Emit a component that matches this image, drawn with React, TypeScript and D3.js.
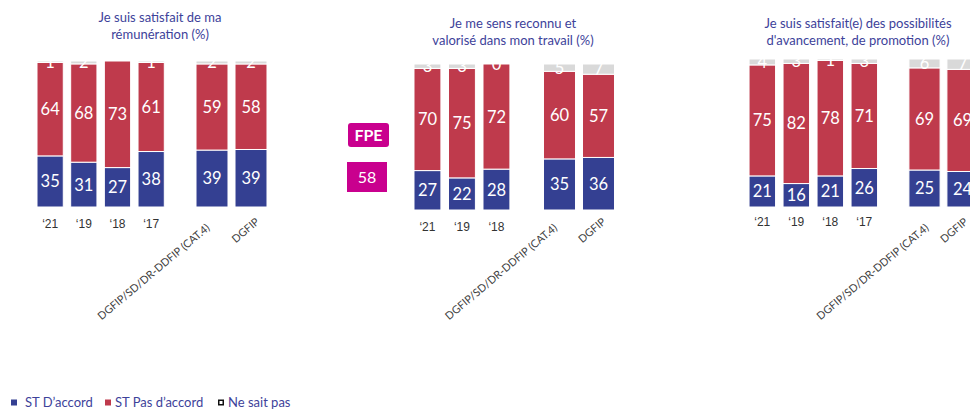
import React from "react";
import * as d3 from "d3";

// ---------- DATA ----------
const titles1 = ["Je suis satisfait de ma", "rémunération (%)"];
const titles2 = ["Je me sens reconnu et", "valorisé dans mon travail (%)"];
const titles3 = ["Je suis satisfait(e) des possibilités", "d'avancement, de promotion (%)"];

const years1 = ["‘21", "‘19", "‘18", "‘17"];
const years2 = ["‘21", "‘19", "‘18"];
const years3 = ["‘21", "‘19", "‘18", "‘17"];
const groups = ["DGFIP/SD/DR-DDFIP (CAT.4)", "DGFIP"];

const agree1 = [35, 31, 27, 38, 39, 39];
const disagree1 = [64, 68, 73, 61, 59, 58];
const dontKnow1: (number | null)[] = [1, 2, null, 1, 2, 2];

const agree2 = [27, 22, 28, 35, 36];
const disagree2 = [70, 75, 72, 60, 57];
const dontKnow2: (number | null)[] = [3, 3, 0, 5, 7];

const agree3 = [21, 16, 21, 26, 25, 24];
const disagree3 = [75, 82, 78, 71, 69, 69];
const dontKnow3: (number | null)[] = [4, 3, 1, 3, 6, 7];

const seriesNames = ["ST D’accord", "ST Pas d’accord", "Ne sait pas"];
const fpeLabel = "FPE";
const fpeValue = 58;

// ---------- STYLE ----------
const BLUE = "#344092";
const RED = "#bf3a4c";
const GRAY = "#d9d9d9";
const MAGENTA = "#c9008e";
const TITLE_COLOR = "#3d429a";
const FONT = "Lato, 'Open Sans', sans-serif";

type Panel = {
  titles: string[];
  years: string[];
  agree: number[];
  disagree: number[];
  dontKnow: (number | null)[];
  yearRange: [number, number];
  groupRange: [number, number];
  yRange: [number, number];
  titleX: number;
  titleY: number;
  tickY: number;
  labelDx: number[];
};

const panels: Panel[] = [
  { titles: titles1, years: years1, agree: agree1, disagree: disagree1, dontKnow: dontKnow1,
    yearRange: [33.3, 168], groupRange: [192.5, 270.5], yRange: [207, 61], titleX: 160, titleY: 22, tickY: 228, labelDx: [-1.5, 9] },
  { titles: titles2, years: years2, agree: agree2, disagree: disagree2, dontKnow: dontKnow2,
    yearRange: [410.2, 513.7], groupRange: [540, 618], yRange: [210, 64], titleX: 513, titleY: 28, tickY: 231, labelDx: [-1.5, 8] },
  { titles: titles3, years: years3, agree: agree3, disagree: disagree3, dontKnow: dontKnow3,
    yearRange: [745.3, 881.3], groupRange: [905.5, 981.5], yRange: [207, 59], titleX: 858, titleY: 28, tickY: 226, labelDx: [5, 6] },
];

function PanelChart({ p }: { p: Panel }) {
  const xYears = d3.scaleBand<string>().domain(p.years).range(p.yearRange).paddingInner(0.22).paddingOuter(0.11);
  const xGroups = d3.scaleBand<string>().domain(groups).range(p.groupRange).paddingInner(0.18).paddingOuter(0.09);
  const y = d3.scaleLinear().domain([0, 1]).range(p.yRange);
  const cats = [...p.years, ...groups];
  const rows = cats.map((c, i) => ({
    cat: c,
    agree: p.agree[i],
    disagree: p.disagree[i],
    dk: p.dontKnow[i] ?? 0,
    dkLabel: p.dontKnow[i],
  }));
  const stack = d3.stack<any>().keys(["agree", "disagree", "dk"]).offset(d3.stackOffsetExpand);
  const series = stack(rows);
  const colors = [BLUE, RED, GRAY];
  const xOf = (c: string) => (p.years.includes(c) ? xYears(c)! : xGroups(c)!);
  const wOf = (c: string) => (p.years.includes(c) ? xYears.bandwidth() : xGroups.bandwidth());
  return (
    <g>
      {p.titles.map((t, i) => (
        <text key={i} x={p.titleX} y={p.titleY + i * 17} textAnchor="middle" fill={TITLE_COLOR}
          fontSize={13} fontFamily={FONT}>{t}</text>
      ))}
      {series.map((s, si) =>
        s.map((d, i) => {
          const c = rows[i].cat;
          const y0 = y(d[0]);
          const y1 = y(d[1]);
          return (
            <rect key={si + "-" + i} x={xOf(c)} width={wOf(c)} y={y1} height={Math.max(0, y0 - y1)}
              fill={colors[si]} stroke="#fff" strokeWidth={1} />
          );
        })
      )}
      {series.map((s, si) =>
        s.map((d, i) => {
          const r = rows[i];
          const val = si === 0 ? r.agree : si === 1 ? r.disagree : r.dkLabel;
          if (val === null || val === undefined) return null;
          const c = r.cat;
          const cy = (y(d[0]) + y(d[1])) / 2;
          return (
            <text key={"l" + si + "-" + i} x={xOf(c) + wOf(c) / 2} y={cy} dy="0.36em" textAnchor="middle"
              fill="#fff" fontSize={16.5} fontFamily={FONT}>{val}</text>
          );
        })
      )}
      {p.years.map((yr) => (
        <text key={yr} x={xYears(yr)! + xYears.bandwidth() / 2} y={p.tickY} textAnchor="middle"
          fill="#333" fontSize={12} fontFamily="'Liberation Sans', Arial, sans-serif">{yr}</text>
      ))}
      {groups.map((g, gi) => {
        const cx = xGroups(g)! + xGroups.bandwidth() / 2 + p.labelDx[gi];
        const cy = gi === 0 ? 229 : 223;
        return (
          <text key={g} transform={`translate(${cx},${cy}) rotate(-40)`} textAnchor="end"
            fill="#404040" fontSize={10.8} fontFamily={FONT}>{g}</text>
        );
      })}
    </g>
  );
}

export default function App() {
  const legendColors = [BLUE, RED, "#111"];
  const legendX = [11, 105, 218];
  return (
    <svg width={970} height={409} style={{ position: "absolute", left: 0, top: 0, background: "#fff" }}>
      <rect width={970} height={409} fill="#fff" />
      {panels.map((p, i) => <PanelChart key={i} p={p} />)}
      <rect x={348} y={123} width={41} height={24} rx={3} fill={MAGENTA} />
      <text x={368.5} y={135} dy="0.36em" textAnchor="middle" fill="#fff" fontSize={16} fontWeight="bold" fontFamily={FONT}>{fpeLabel}</text>
      <rect x={347} y={162} width={40} height={30} fill={MAGENTA} />
      <text x={367} y={177} dy="0.36em" textAnchor="middle" fill="#fff" fontSize={16} fontFamily={FONT}>{fpeValue}</text>
      {seriesNames.map((n, i) => (
        <g key={n}>
          {i < 2 ? (
            <rect x={legendX[i]} y={399.5} width={6} height={6} fill={legendColors[i]} />
          ) : (
            <rect x={legendX[i] + 0.75} y={400.25} width={4.5} height={4.5} fill="#fff" stroke="#111" strokeWidth={1.5} />
          )}
          <text x={legendX[i] + (i === 0 ? 14 : 10)} y={406.5} fill={TITLE_COLOR} fontSize={13} fontFamily={FONT}>{n}</text>
        </g>
      ))}
    </svg>
  );
}
